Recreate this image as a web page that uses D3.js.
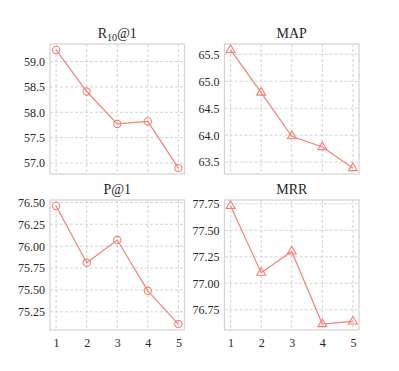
<!DOCTYPE html>
<html>
<head>
<meta charset="utf-8">
<script src="https://cdn.jsdelivr.net/npm/d3@7"></script>
<style>
  body { margin: 0; background: #fff; }
  svg text { font-family: "Liberation Serif", serif; fill: #262626; }
</style>
</head>
<body>
<svg id="chart" width="399" height="371"></svg>
<script>
'use strict';

// x positions shared by all four panels
var steps = [1, 2, 3, 4, 5];

// panel values
var r10at1 = [59.23, 58.41, 57.77, 57.82, 56.90];
var map = [65.58, 64.79, 63.98, 63.78, 63.39];
var pat1 = [76.46, 75.81, 76.07, 75.49, 75.11];
var mrr = [77.73, 77.10, 77.30, 76.615, 76.64];

var r10Ticks = [57.0, 57.5, 58.0, 58.5, 59.0];
var mapTicks = [63.5, 64.0, 64.5, 65.0, 65.5];
var pat1Ticks = [75.25, 75.50, 75.75, 76.00, 76.25, 76.50];
var mrrTicks = [76.75, 77.00, 77.25, 77.50, 77.75];

var panels = [
  {title: 'R', sub: '10', rest: '@1', values: r10at1, ticks: r10Ticks, fmt: '.1f', marker: 'circle', col: 0, row: 0},
  {title: 'MAP', values: map, ticks: mapTicks, fmt: '.1f', marker: 'triangle', col: 1, row: 0},
  {title: 'P@1', values: pat1, ticks: pat1Ticks, fmt: '.2f', marker: 'circle', col: 0, row: 1},
  {title: 'MRR', values: mrr, ticks: mrrTicks, fmt: '.2f', marker: 'triangle', col: 1, row: 1}
];

var lineColor = '#fa8072';
var fontFam = '"Liberation Serif", serif';
var colLeft = [50, 224.5];
var rowTop = [44, 200];
var boxW = 134.5, boxH = 130;

var svg = d3.select('#chart');

// pad a range by 5% on each side, like matplotlib's default margins
function padded(extent) {
  var pad = (extent[1] - extent[0]) * 0.05;
  return [extent[0] - pad, extent[1] + pad];
}

function styleAxis(sel) {
  sel.attr('font-family', fontFam).attr('font-size', 12);
  sel.select('.domain').remove();
  sel.selectAll('text').attr('fill', '#262626');
}

panels.forEach(function(p) {
  var g = svg.append('g')
    .attr('transform', 'translate(' + colLeft[p.col] + ',' + rowTop[p.row] + ')');

  var x = d3.scaleLinear().domain(padded(d3.extent(steps))).range([0, boxW]);
  var y = d3.scaleLinear().domain(padded(d3.extent(p.values))).range([boxH, 0]);

  // dashed grid
  g.append('g').selectAll('line').data(steps).enter().append('line')
    .attr('x1', function(d) { return x(d); }).attr('x2', function(d) { return x(d); })
    .attr('y1', 0).attr('y2', boxH)
    .attr('stroke', '#cfcfcf').attr('stroke-width', 0.9).attr('stroke-dasharray', '3,2');
  g.append('g').selectAll('line').data(p.ticks).enter().append('line')
    .attr('y1', function(d) { return y(d); }).attr('y2', function(d) { return y(d); })
    .attr('x1', 0).attr('x2', boxW)
    .attr('stroke', '#cfcfcf').attr('stroke-width', 0.9).attr('stroke-dasharray', '3,2');

  // frame
  g.append('rect')
    .attr('width', boxW).attr('height', boxH)
    .attr('fill', 'none').attr('stroke', '#d6d6d6').attr('stroke-width', 1.3);

  // y axis labels
  var yAxis = d3.axisLeft(y).tickValues(p.ticks).tickFormat(d3.format(p.fmt)).tickSize(0).tickPadding(5);
  g.append('g').call(yAxis).call(styleAxis);

  // x axis labels on the bottom row only
  if (p.row === 1) {
    var xAxis = d3.axisBottom(x).tickValues(steps).tickFormat(d3.format('d')).tickSize(0).tickPadding(8);
    g.append('g').attr('transform', 'translate(0,' + boxH + ')').call(xAxis).call(styleAxis);
  }

  // title
  var t = g.append('text')
    .attr('x', boxW / 2).attr('y', -6)
    .attr('text-anchor', 'middle')
    .attr('font-family', fontFam)
    .attr('font-size', 14);
  t.append('tspan').text(p.title);
  if (p.sub) {
    t.append('tspan').attr('dy', 3).attr('font-size', 10).text(p.sub);
    t.append('tspan').attr('dy', -3).text(p.rest);
  }

  // line
  var pts = steps.map(function(s, i) { return [s, p.values[i]]; });
  g.append('path')
    .datum(pts)
    .attr('fill', 'none').attr('stroke', lineColor).attr('stroke-width', 1.2)
    .attr('d', d3.line().x(function(d) { return x(d[0]); }).y(function(d) { return y(d[1]); }));

  // hollow markers
  var sym = p.marker === 'circle' ? d3.symbolCircle : d3.symbolTriangle;
  var size = p.marker === 'circle' ? 42 : 34;
  g.append('g').selectAll('path').data(pts).enter().append('path')
    .attr('transform', function(d) { return 'translate(' + x(d[0]) + ',' + y(d[1]) + ')'; })
    .attr('d', d3.symbol().type(sym).size(size))
    .attr('fill', 'none').attr('stroke', lineColor).attr('stroke-width', 1.1);
});
</script>
</body>
</html>
